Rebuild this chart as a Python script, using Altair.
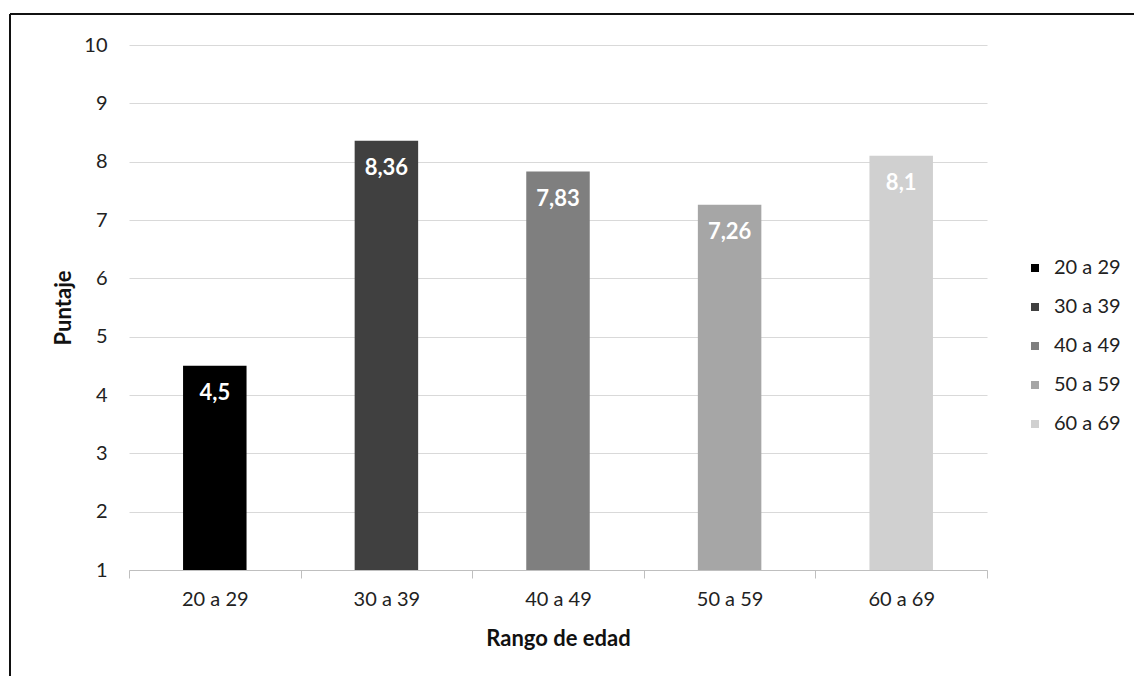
import altair as alt
import pandas as pd

# Puntaje medio por rango de edad
rangos = ["20 a 29", "30 a 39", "40 a 49", "50 a 59", "60 a 69"]
puntajes = [4.5, 8.36, 7.83, 7.26, 8.1]
etiquetas = ["4,5", "8,36", "7,83", "7,26", "8,1"]
grises = ["#000000", "#404040", "#7f7f7f", "#a6a6a6", "#d0d0d0"]

df = pd.DataFrame({"rango": rangos, "puntaje": puntajes, "etiqueta": etiquetas})

FONT = "Lato"
W, H = 858, 525

x = alt.X(
    "rango:N",
    sort=rangos,
    title="Rango de edad",
    scale=alt.Scale(paddingInner=0, paddingOuter=0),
    axis=alt.Axis(
        labelAngle=0, labelFontSize=20, labelPadding=11, labelColor="#222",
        titleFontSize=22, titleFontWeight="bold", titlePadding=19, titleColor="#111",
        domainColor="#bfbfbf", tickColor="#bfbfbf", tickSize=8, tickBand="extent",
        grid=False, labelFont=FONT, titleFont=FONT,
    ),
)
y = alt.Y(
    "puntaje:Q",
    title="Puntaje",
    scale=alt.Scale(domain=[1, 10], zero=False, nice=False),
    axis=alt.Axis(
        values=list(range(1, 11)), format="d", labelFontSize=20, labelPadding=22,
        labelColor="#222",
        titleFontSize=22, titleFontWeight="bold", titlePadding=8, titleColor="#111",
        domain=False, ticks=False, gridColor="#d9d9d9", gridWidth=1,
        labelFont=FONT, titleFont=FONT,
    ),
)

bars = alt.Chart(df).mark_bar(width=alt.RelativeBandSize(0.37)).encode(
    x=x,
    y=y,
    y2=alt.datum(1),
    color=alt.Color(
        "rango:N",
        sort=rangos,
        scale=alt.Scale(domain=rangos, range=grises),
        legend=alt.Legend(
            title=None, orient="none", legendX=896, legendY=213,
            symbolType="square", symbolSize=64, symbolStrokeWidth=0,
            labelFontSize=20, labelFont=FONT, labelColor="#222",
            rowPadding=19, labelOffset=9,
        ),
    ),
)

labels = alt.Chart(df).mark_text(
    color="white", fontSize=22, fontWeight="bold", font=FONT, baseline="middle", dy=27
).encode(x=alt.X("rango:N", sort=rangos), y="puntaje:Q", text="etiqueta:N")

# marco: líneas superior e izquierda
top_line = alt.Chart(df.head(1)).mark_rule(color="#111", strokeWidth=2).encode(
    x=alt.value(-119), x2=alt.value(1134 - 129), y=alt.value(-31)
)
left_line = alt.Chart(df.head(1)).mark_rule(color="#111", strokeWidth=2).encode(
    x=alt.value(-119), y=alt.value(-31), y2=alt.value(676 - 45)
)

chart = alt.layer(bars, labels, top_line, left_line).properties(
    width=W, height=H,
    autosize=alt.AutoSizeParams(type="none"),
    padding={"left": 129, "top": 45, "right": 1134 - 129 - W, "bottom": 676 - 45 - H},
    background="white",
).configure_view(stroke=None)

chart.save("out.html", embed_options={"renderer": "svg", "actions": False})
